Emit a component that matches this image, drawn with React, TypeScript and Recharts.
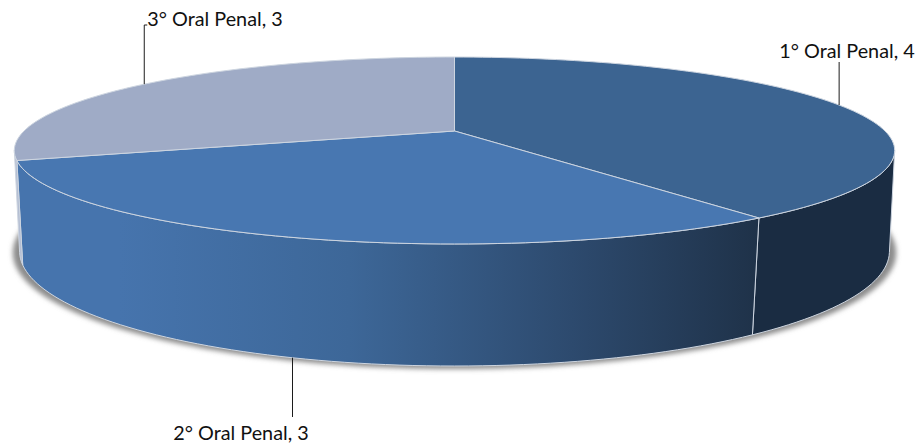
import React from "react";
import { PieChart, Pie } from "recharts";

const categories = ["1° Oral Penal", "2° Oral Penal", "3° Oral Penal"];
const values = [4, 3, 3];
const topColors = ["#3c6491", "#4877b1", "#9fabc6"];
const wallColors = ["#1a2c42", "url(#wallFront)", "#b4bed3"];
const chartData = categories.map((name, i) => ({ name, value: values[i], fill: topColors[i] }));

// perspective of the 3D disc
const TILT_TOP = 0.2086;
const DEPTH_TOP = 89.4 / 430.5;
const TILT_BOTTOM = 0.196;
const RADIUS_BOTTOM = 426.5 / 430.5;
const DEPTH_BOTTOM = 110.4 / 430.5;
const BOTTOM_DROP = 97.7;
const WALL_FROM = 102;
const WALL_TO = 258;

const EDGE = "#cdd5e0";

function projectTop(cx: number, cy: number, r: number, deg: number) {
    const t = (deg * Math.PI) / 180;
    const u = Math.sin(t);
    const v = -Math.cos(t);
    const d = 1 - TILT_TOP * v;
    return [cx + (r * u) / d, cy + (r * DEPTH_TOP * v) / d];
}

function projectBottom(cx: number, cy: number, r: number, deg: number) {
    const t = (deg * Math.PI) / 180;
    const u = Math.sin(t);
    const v = -Math.cos(t);
    const d = 1 - TILT_BOTTOM * v;
    return [cx + (r * RADIUS_BOTTOM * u) / d, cy + BOTTOM_DROP + (r * DEPTH_BOTTOM * v) / d];
}

function sweep(from: number, to: number) {
    const out: number[] = [];
    for (let a = from; a < to; a += 1.5) out.push(a);
    out.push(to);
    return out;
}

const toPath = (pts: number[][]) =>
    pts.map((p, i) => `${i === 0 ? "M" : "L"}${p[0].toFixed(2)},${p[1].toFixed(2)}`).join(" ");

function DiscSlice(props: any) {
    const { cx, cy, outerRadius, startAngle, endAngle, fill, index } = props;
    const from = 90 - startAngle;
    const to = 90 - endAngle;

    const rim = sweep(from, to).map((a) => projectTop(cx, cy, outerRadius, a));
    const topPath = `M${cx},${cy} ` + toPath(rim).replace("M", "L") + " Z";

    const wFrom = Math.max(from, WALL_FROM);
    const wTo = Math.min(to, WALL_TO);
    let wall = null;
    if (wTo > wFrom) {
        const up = sweep(wFrom, wTo).map((a) => projectTop(cx, cy, outerRadius, a));
        const down = sweep(wFrom, wTo).map((a) => projectBottom(cx, cy, outerRadius, a)).reverse();
        wall = (
            <path
                d={toPath([...up, ...down]) + " Z"}
                fill={wallColors[index]}
                stroke={EDGE}
                strokeWidth={1}
                strokeLinejoin="round"
            />
        );
    }

    // soft shadow, wider than the base on the sides
    const shadow = index === 0
        ? sweep(0, 360).map((a) => {
            const p = projectBottom(cx, cy, outerRadius, a);
            return [cx + (p[0] - cx) * 1.012, p[1] + 1.5];
        })
        : null;

    return (
        <g>
            {shadow && (
                <path d={toPath(shadow) + " Z"} fill="#8c8c8c" stroke="#8c8c8c" strokeWidth={3} filter="url(#discShadow)" />
            )}
            {wall}
            <path d={topPath} fill={fill} stroke={EDGE} strokeWidth={1} strokeLinejoin="round" />
        </g>
    );
}

const labelAnchors = [
    { endY: 62, textX: 847, textY: 50 },
    { endY: 417, textX: 241, textY: 432 },
    { endY: 25, textX: 215, textY: 18 },
];

function SliceLabel(props: any) {
    const { cx, cy, outerRadius, midAngle, name, value, index } = props;
    const deg = 90 - midAngle;
    const onWall = deg > WALL_FROM && deg < WALL_TO;
    const start = onWall ? projectBottom(cx, cy, outerRadius, deg) : projectTop(cx, cy, outerRadius, deg);
    const a = labelAnchors[index];
    return (
        <g>
            <path
                d={`M${start[0]},${start[1]} L${start[0]},${a.endY}` + (index === 2 ? ` L${start[0] + 3},${a.endY}` : "")}
                fill="none"
                stroke="#1c1c1c"
                strokeWidth={1}
            />
            <text
                x={a.textX}
                y={a.textY}
                textAnchor="middle"
                dominantBaseline="central"
                fontFamily="Lato, sans-serif"
                fontSize={19.8}
                fill="#111111"
            >
                {`${name}, ${value}`}
            </text>
        </g>
    );
}

export default function App() {
    return (
        <div style={{ position: "absolute", left: 0, top: 0, width: 921, height: 444, background: "#ffffff" }}>
            <PieChart width={921} height={444} margin={{ top: 0, right: 0, bottom: 0, left: 0 }}>
                <defs>
                    <linearGradient id="wallFront" gradientUnits="userSpaceOnUse" x1={16} y1={0} x2={757} y2={0}>
                        <stop offset="0.14" stopColor="#4674ad" />
                        <stop offset="0.45" stopColor="#3d6798" />
                        <stop offset="0.75" stopColor="#2d4a6e" />
                        <stop offset="1" stopColor="#1f3249" />
                    </linearGradient>
                    <filter id="discShadow" x="-5%" y="-10%" width="110%" height="120%">
                        <feGaussianBlur stdDeviation="2.5" />
                    </filter>
                </defs>
                <Pie
                    data={chartData}
                    dataKey="value"
                    nameKey="name"
                    cx={454.5}
                    cy={131}
                    innerRadius={0}
                    outerRadius={430.5}
                    startAngle={90}
                    endAngle={-270}
                    shape={DiscSlice}
                    label={SliceLabel}
                    labelLine={false}
                    isAnimationActive={false}
                />
            </PieChart>
        </div>
    );
}
